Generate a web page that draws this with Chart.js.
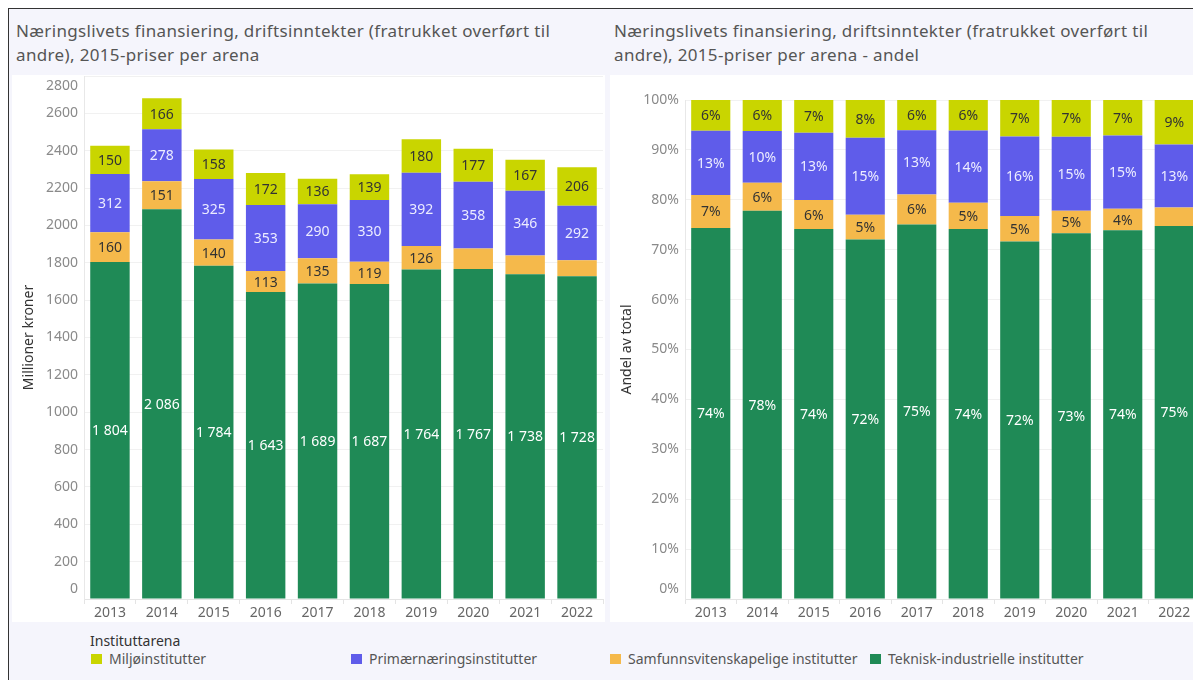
<!DOCTYPE html>
<html lang="no">
<head>
<meta charset="utf-8">
<title>Næringslivets finansiering</title>
<script src="https://cdn.jsdelivr.net/npm/chart.js@4.4.0/dist/chart.umd.min.js"></script>
<style>
    body { margin: 0; width: 1193px; height: 680px; overflow: hidden; background: #fff; font-family: "Noto Sans", sans-serif; }
    #ramme { position: absolute; left: 8px; top: 8px; width: 1200px; height: 690px; background: #f5f5fc; border-left: 1px solid #333; border-top: 1px solid #333; }
    .tittel { position: absolute; top: 19px; font-size: 17px; letter-spacing: 0.35px; line-height: 23.5px; color: #555; white-space: nowrap; }
    .panel { position: absolute; top: 75px; height: 547px; background: #fff; }
    .panel canvas { position: absolute; left: 0; top: 0; }
    #legendeTittel { position: absolute; left: 90px; top: 631px; font-size: 14px; line-height: 20px; color: #333; }
    .legendeElement { position: absolute; top: 649px; font-size: 14px; line-height: 20px; color: #555; white-space: nowrap; }
    .legendeElement span { position: absolute; left: 0; top: 5px; width: 11px; height: 10px; }
    .legendeElement b { font-weight: normal; position: absolute; left: 18px; top: 0; }
</style>
</head>
<body>
<div id="ramme"></div>
<div class="tittel" style="left:16px">Næringslivets finansiering, driftsinntekter (fratrukket overført til<br>andre), 2015-priser per arena</div>
<div class="tittel" style="left:614px">Næringslivets finansiering, driftsinntekter (fratrukket overført til<br>andre), 2015-priser per arena - andel</div>

<div class="panel" style="left:12px; width:593px"><canvas id="kronerChart" width="593" height="547"></canvas></div>
<div class="panel" style="left:610px; width:600px"><canvas id="andelChart" width="592" height="547"></canvas></div>

<div id="legendeTittel">Instituttarena</div>
<div id="legende"></div>

<script>
// Data lest av figuren (millioner kroner, 2015-priser)
var aar = ['2013', '2014', '2015', '2016', '2017', '2018', '2019', '2020', '2021', '2022'];
var teknisk = [1804, 2086, 1784, 1643, 1689, 1687, 1764, 1767, 1738, 1728];
var samfunn = [160, 151, 140, 113, 135, 119, 126, 109, 101, 86];
var primaer = [312, 278, 324.7, 353, 290, 329.6, 392, 358, 346, 292];
var miljo = [150, 166, 158, 172, 136, 139, 180, 177, 167, 206];

var arenaNavn = ['Teknisk-industrielle institutter', 'Samfunnsvitenskapelige institutter', 'Primærnæringsinstitutter', 'Miljøinstitutter'];
var arenaFarge = ['#1f8a56', '#f5b94b', '#5f5cea', '#c9d500'];
var etikettFarge = ['#ffffff', '#333333', '#ececff', '#333333'];

// Akser
var kronerMaks = 2800;
var kronerSteg = 200;
var andelMaks = 100;
var andelSteg = 10;

// Andel av total per år
var serier = [teknisk, samfunn, primaer, miljo];
var totaler = aar.map(function (a, i) {
    return teknisk[i] + samfunn[i] + primaer[i] + miljo[i];
});
var andeler = serier.map(function (s) {
    return s.map(function (v, i) { return v / totaler[i] * 100; });
});

function formatKroner(v) {
    return String(Math.round(v)).replace(/\B(?=(\d{3})+(?!\d))/g, ' ');
}
function formatAndel(v) {
    return Math.round(v) + '%';
}

// Tegner verdier midt i hvert segment når det er plass
function lagEtikettPlugin(format) {
    return {
        id: 'etiketter',
        afterLayout: function (chart) {
            // kant-aksen tar ikke plass, men bruker samme kolonne som y-aksen
            var k = chart.scales.yKant, y = chart.scales.y;
            k.left = y.left;
            k.right = y.right;
            k.width = y.width;
        },
        afterDatasetsDraw: function (chart) {
            var ctx = chart.ctx;
            ctx.save();
            ctx.font = '14px "Noto Sans"';
            ctx.textAlign = 'center';
            ctx.textBaseline = 'middle';
            chart.data.datasets.forEach(function (ds, i) {
                var meta = chart.getDatasetMeta(i);
                meta.data.forEach(function (bar, j) {
                    var h = Math.abs(bar.base - bar.y);
                    if (h < 20.7) return;
                    ctx.fillStyle = etikettFarge[i];
                    ctx.fillText(format(ds.data[j]), bar.x, (bar.y + bar.base) / 2 + 1);
                });
            });
            ctx.restore();
        }
    };
}

// kant: ytterste tick-etiketter som Tableau flytter ~10px innover
function lagDiagram(id, data, maks, steg, kantTicks, kantTopp, plotHoyde, tickFormat, etikettFormat, yTittel, yBredde, toppPadding) {
    var ctx = document.getElementById(id).getContext('2d');
    var datasets = data.map(function (s, i) {
        return {
            label: arenaNavn[i],
            data: s,
            backgroundColor: arenaFarge[i],
            barPercentage: 0.76,
            categoryPercentage: 1,
            yAxisID: 'y'
        };
    });
    var tickFont = { family: 'Noto Sans', size: 14 };
    var skyv = 10;
    var nede = skyv * maks / (plotHoyde - skyv * (kantTopp ? 2 : 1));
    var oppe = kantTopp ? nede : 0;
    return new Chart(ctx, {
        type: 'bar',
        data: { labels: aar, datasets: datasets },
        plugins: [lagEtikettPlugin(etikettFormat)],
        options: {
            responsive: false,
            animation: false,
            layout: { padding: { top: toppPadding, right: 2, left: 0, bottom: 0 } },
            plugins: {
                legend: { display: false },
                tooltip: { enabled: false }
            },
            scales: {
                x: {
                    stacked: true,
                    grid: { display: true, drawOnChartArea: false, offset: true, tickLength: 5, color: '#e4e4e4' },
                    border: { color: '#e4e4e4' },
                    ticks: { color: '#666', font: tickFont, padding: 1, maxRotation: 0 },
                    afterFit: function (scale) { scale.height = 23; }
                },
                y: {
                    stacked: true,
                    weight: 1,
                    min: 0,
                    max: maks,
                    grid: { color: '#f1f1f1', drawTicks: false },
                    border: { color: '#e8e8e8' },
                    ticks: {
                        stepSize: steg,
                        color: '#8a8a8a',
                        padding: 6,
                        font: tickFont,
                        callback: function (v) {
                            return kantTicks.indexOf(v) >= 0 ? '' : tickFormat(v);
                        }
                    },
                    title: {
                        display: true,
                        text: yTittel,
                        color: '#333',
                        font: { family: 'Noto Sans', size: 14 },
                        padding: { top: 9, bottom: 0 }
                    },
                    afterFit: function (scale) {
                        scale.width = yBredde;
                        scale.paddingTop = 0;
                        scale.paddingBottom = 0;
                    }
                },
                yKant: {
                    position: 'left',
                    weight: 0,
                    bounds: 'data',
                    grid: { display: false, drawTicks: false },
                    border: { display: false },
                    ticks: { color: '#8a8a8a', padding: 6, font: tickFont, callback: tickFormat },
                    afterDataLimits: function (scale) {
                        scale.min = -nede;
                        scale.max = maks + oppe;
                    },
                    afterBuildTicks: function (scale) {
                        scale.min = -nede;
                        scale.max = maks + oppe;
                        scale.ticks = kantTicks.map(function (v) { return { value: v }; });
                    },
                    afterFit: function (scale) {
                        scale.width = 0;
                        scale.paddingTop = 0;
                        scale.paddingBottom = 0;
                    }
                }
            }
        }
    });
}

lagDiagram('kronerChart', serier, kronerMaks, kronerSteg, [0, kronerMaks], true, 523,
    function (v) { return String(v); }, formatKroner, 'Millioner kroner', 72, 1);

lagDiagram('andelChart', andeler, andelMaks, andelSteg, [0], false, 499,
    function (v) { return v + '%'; }, formatAndel, 'Andel av total', 75, 25);

// Legende (samme rekkefølge som i figuren)
var legendeX = [91, 351, 610, 870];
var legende = document.getElementById('legende');
[3, 2, 1, 0].forEach(function (i, k) {
    var el = document.createElement('div');
    el.className = 'legendeElement';
    el.style.left = legendeX[k] + 'px';
    el.innerHTML = '<span style="background:' + arenaFarge[i] + '"></span><b>' + arenaNavn[i] + '</b>';
    legende.appendChild(el);
});
</script>
</body>
</html>
